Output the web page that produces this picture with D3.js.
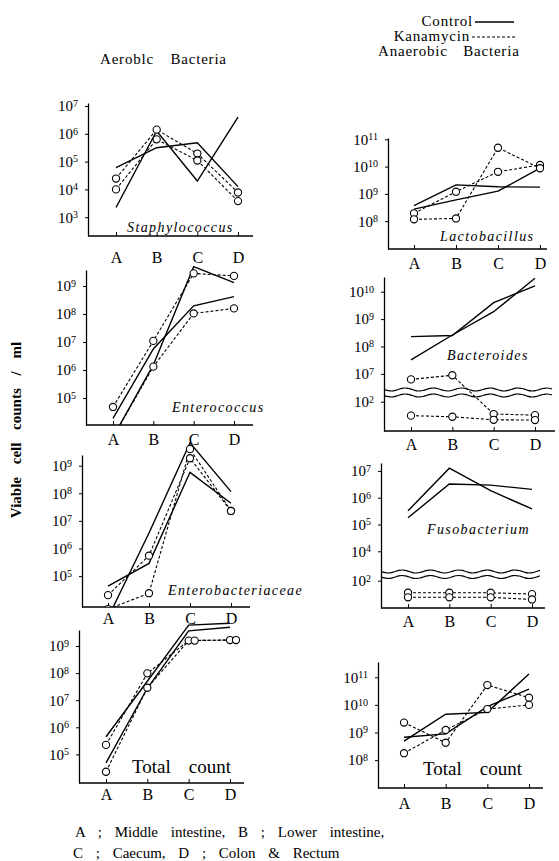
<!DOCTYPE html>
<html>
<head>
<meta charset="utf-8">
<script src="https://cdn.jsdelivr.net/npm/d3@7"></script>
<style>
  body { margin: 0; background: #fff; }
  svg text { font-family: 'Liberation Serif', 'Times New Roman', 'DejaVu Serif', serif; }
</style>
</head>
<body>
<div id="chart"></div>
<script>
// sampling sites along the gut
const sites = ['A', 'B', 'C', 'D'];

// log10 viable cell counts / ml, two animals per group
const staphControl = [[4.78, 5.5, 5.68, 4.1], [3.35, 6.1, 4.3, 6.6]];
const staphKanamycin = [[4.39, 6.15, 5.29, 3.89], [4.0, 5.8, 5.04, 3.58]];

const enteroControl = [[4.27, 6.75, 8.29, 8.62], [3.6, 6.18, 9.69, 9.12]];
const enteroKanamycin = [[4.68, 7.04, 9.45, 9.36], [3.6, 6.12, 8.02, 8.2]];

const enterobacControl = [[4.64, 5.46, 8.76, 7.64], [3.49, 6.56, 9.83, 8.06]];
const enterobacKanamycin = [[4.31, 5.74, 9.27, 7.36], [3.8, 4.38, 9.6, 7.36]];

const aerobicTotalControl = [[5.65, 7.7, 9.77, 9.84], [4.69, 7.44, 9.56, 9.69]];
const aerobicTotalKanamycin = [[5.35, 7.99, 9.2, 9.22], [4.36, 7.46, 9.2, 9.22]];

const lactoControl = [[8.57, 9.33, 9.26, 9.25], [8.44, 8.78, 9.1, 9.94]];
const lactoKanamycin = [[8.29, 9.08, 9.81, 10.06], [8.07, 8.1, 10.69, 9.94]];

const bacteroidesControl = [[8.36, 8.4, 9.6, 10.21], [7.51, 8.42, 9.27, 10.49]];
const bacteroidesKanamycin = [[6.8, 6.95, 1.55, 1.51], [1.49, 1.45, 1.34, 1.33]];

const fusoControl = [[5.51, 7.1, 6.26, 5.58], [5.25, 6.51, 6.47, 6.31]];
const fusoKanamycin = [[1.55, 1.55, 1.55, 1.5], [1.38, 1.38, 1.38, 1.3]];

const anaerobicTotalControl = [[8.69, 9.66, 9.73, 11.12], [8.83, 8.95, 9.94, 10.57]];
const anaerobicTotalKanamycin = [[9.36, 8.63, 10.72, 10.26], [8.25, 9.09, 9.85, 10.0]];

// y tick exponents
const staphTicks = [3, 4, 5, 6, 7];
const aerobicTicks = [5, 6, 7, 8, 9];
const lactoTicks = [8, 9, 10, 11];
const bacteroidesTicks = [2, 7, 8, 9, 10];
const fusoTicks = [2, 4, 5, 6, 7];
const anaerobicTotalTicks = [8, 9, 10, 11];

const serif = "'Liberation Serif', 'Times New Roman', 'DejaVu Serif', serif";

// panel geometry (pixels)
const panels = [
  { name: 'Staphylococcus', italic: true, control: staphControl, kana: staphKanamycin, ticks: staphTicks,
    ax: 88, bottom: 236, top: 103, xEnd: 253, xA: 116, xD: 238, ref: 7, refY: 106, dec: 27.8,
    labelOff: 21, titleX: 127, titleY: 232 },
  { name: 'Enterococcus', italic: true, control: enteroControl, kana: enteroKanamycin, ticks: aerobicTicks,
    ax: 86, bottom: 425, top: 270, xEnd: 253, xA: 113, xD: 234, ref: 9, refY: 286, dec: 28,
    labelOff: 14, titleX: 172, titleY: 412 },
  { name: 'Enterobacteriaceae', italic: true, control: enterobacControl, kana: enterobacKanamycin, ticks: aerobicTicks,
    ax: 82, bottom: 607, top: 455, xEnd: 250, xA: 108, xD: 231, ref: 9, refY: 465.7, dec: 27.6,
    labelOff: 11, titleX: 168, titleY: 595 },
  { name: 'Total count', italic: false, control: aerobicTotalControl, kana: aerobicTotalKanamycin, ticks: aerobicTicks,
    ax: 79, bottom: 783, top: 630, xEnd: 244, xA: 106, xD: 230, ref: 9, refY: 646, dec: 27.1,
    labelOff: 11, titleX: 132, titleY: 773, pairDx: 6 },
  { name: 'Lactobacillus', italic: true, control: lactoControl, kana: lactoKanamycin, ticks: lactoTicks,
    ax: 388, bottom: 249, top: 138, xEnd: 547, xA: 414, xD: 540, ref: 11, refY: 139.3, dec: 27.3,
    labelOff: 14, titleX: 440, titleY: 241 },
  { name: 'Bacteroides', italic: true, control: bacteroidesControl, kana: bacteroidesKanamycin, ticks: bacteroidesTicks,
    ax: 384, bottom: 431, top: 277, xEnd: 555, xA: 411, xD: 535, ref: 10, refY: 291.7, dec: 27.4,
    lowRef: 2, lowRefY: 401.7, gapLo: 397, gapHi: 387, waves: [389.5, 395.5],
    labelOff: 13, titleX: 447, titleY: 360 },
  { name: 'Fusobacterium', italic: true, control: fusoControl, kana: fusoKanamycin, ticks: fusoTicks,
    ax: 381, bottom: 608, top: 463, xEnd: 545, xA: 408, xD: 532, ref: 6, refY: 497.7, dec: 26.8,
    lowRef: 2, lowRefY: 580.7, gapLo: 578, gapHi: 568, waves: [571.5, 577],
    labelOff: 13, titleX: 427, titleY: 534 },
  { name: 'Total count', italic: false, control: anaerobicTotalControl, kana: anaerobicTotalKanamycin, ticks: anaerobicTotalTicks,
    ax: 378, bottom: 788, top: 662, xEnd: 543, xA: 404, xD: 529, ref: 11, refY: 677.3, dec: 27.6,
    labelOff: 15, titleX: 423, titleY: 775 }
];

const width = 559;
const height = 861;

const svg = d3.select('#chart')
  .append('svg')
  .attr('width', width)
  .attr('height', height)
  .attr('font-family', serif);

// header texts and legend
svg.append('text')
  .attr('x', 100).attr('y', 64)
  .attr('font-size', 15).attr('letter-spacing', 0.8).attr('word-spacing', 12)
  .text('Aeroblc Bacteria');

svg.append('text')
  .attr('x', 473).attr('y', 26).attr('text-anchor', 'end')
  .attr('font-size', 15).attr('letter-spacing', 0.8)
  .text('Control');
svg.append('line')
  .attr('x1', 475).attr('x2', 514).attr('y1', 22).attr('y2', 22)
  .attr('stroke', '#000').attr('stroke-width', 1.4);

svg.append('text')
  .attr('x', 470).attr('y', 41).attr('text-anchor', 'end')
  .attr('font-size', 15).attr('letter-spacing', 0.8)
  .text('Kanamycin');
svg.append('line')
  .attr('x1', 472).attr('x2', 517).attr('y1', 37).attr('y2', 37)
  .attr('stroke', '#000').attr('stroke-width', 1.1).attr('stroke-dasharray', '3,2');

svg.append('text')
  .attr('x', 378).attr('y', 56)
  .attr('font-size', 15).attr('letter-spacing', 0.8).attr('word-spacing', 11)
  .text('Anaerobic Bacteria');

svg.append('text')
  .attr('transform', 'translate(21, 430) rotate(-90)')
  .attr('text-anchor', 'middle')
  .attr('font-size', 15).attr('font-weight', 'bold').attr('word-spacing', 9)
  .text('Viable cell counts / ml');

svg.append('text')
  .attr('x', 75).attr('y', 837)
  .attr('font-size', 15).attr('word-spacing', 9)
  .text('A ; Middle intestine, B ; Lower intestine,');
svg.append('text')
  .attr('x', 73).attr('y', 858)
  .attr('font-size', 15).attr('word-spacing', 9)
  .text('C ; Caecum, D ; Colon & Rectum');

const defs = svg.append('defs');

panels.forEach((p, pi) => {
  const g = svg.append('g').attr('class', 'panel');

  const x = d3.scalePoint().domain(sites).range([p.xA, p.xD]);

  let y;
  if (p.lowRef !== undefined) {
    // broken axis: lower part near detection limit, upper part normal
    y = d3.scaleLinear()
      .domain([
        p.lowRef - (p.bottom - p.lowRefY) / p.dec,
        p.lowRef + (p.lowRefY - p.gapLo) / p.dec,
        p.ref - (p.gapHi - p.refY) / p.dec,
        p.ref + (p.refY - p.top) / p.dec
      ])
      .range([p.bottom, p.gapLo, p.gapHi, p.top]);
  } else {
    y = d3.scaleLinear()
      .domain([p.ref - (p.bottom - p.refY) / p.dec, p.ref + (p.refY - p.top) / p.dec])
      .range([p.bottom, p.top]);
  }

  // y axis
  const yAxis = g.append('g')
    .attr('transform', `translate(${p.ax},0)`)
    .call(d3.axisLeft(y).tickValues(p.ticks).tickSize(3).tickSizeOuter(0).tickPadding(7));
  yAxis.attr('font-family', serif);
  yAxis.select('.domain').attr('stroke-width', 1.3);
  yAxis.selectAll('.tick line').attr('stroke-width', 1);
  yAxis.selectAll('.tick text')
    .attr('font-size', 15)
    .attr('fill', '#000')
    .text(null)
    .each(function(d) {
      const t = d3.select(this);
      t.append('tspan').text('10');
      t.append('tspan').attr('dy', '-0.45em').attr('font-size', 10).text(d);
    });

  // x axis
  const xAxis = g.append('g')
    .attr('transform', `translate(0,${p.bottom})`)
    .call(d3.axisBottom(x).tickSize(-4).tickSizeOuter(0).tickPadding(p.labelOff - 5));
  xAxis.attr('font-family', serif);
  xAxis.select('.domain').remove();
  xAxis.selectAll('.tick line').attr('stroke-width', 1);
  xAxis.selectAll('.tick text')
    .attr('font-size', 16)
    .attr('fill', '#000');
  g.append('line')
    .attr('x1', p.ax).attr('x2', p.xEnd)
    .attr('y1', p.bottom).attr('y2', p.bottom)
    .attr('stroke', '#000').attr('stroke-width', 1.4);

  // wavy break lines
  if (p.waves) {
    const wave = d3.line().curve(d3.curveBasis);
    p.waves.forEach(wy => {
      const pts = d3.range(p.ax, p.xEnd - 2, 3).map(wx => [wx, wy + 1.6 * Math.sin((wx - p.ax) / 4.5)]);
      g.append('path')
        .attr('d', wave(pts))
        .attr('fill', 'none').attr('stroke', '#000').attr('stroke-width', 1.2);
    });
  }

  // clip marks at the x axis
  const clipId = 'clip' + pi;
  defs.append('clipPath').attr('id', clipId)
    .append('rect')
    .attr('x', p.ax).attr('y', 0)
    .attr('width', width - p.ax).attr('height', p.bottom);

  const marks = g.append('g').attr('clip-path', `url(#${clipId})`);
  const line = d3.line().x((d, i) => x(sites[i])).y(d => y(d));

  p.control.forEach(series => {
    marks.append('path')
      .datum(series)
      .attr('d', line)
      .attr('fill', 'none').attr('stroke', '#000').attr('stroke-width', 1.4);
  });

  p.kana.forEach(series => {
    marks.append('path')
      .datum(series)
      .attr('d', line)
      .attr('fill', 'none').attr('stroke', '#000').attr('stroke-width', 1.1)
      .attr('stroke-dasharray', '3,2');
  });

  p.kana.forEach((series, si) => {
    marks.selectAll(null)
      .data(series)
      .enter()
      .append('circle')
      .attr('cx', (d, i) => {
        const other = p.kana[1 - si][i];
        const shift = (si === 1 && Math.abs(other - d) < 0.1 && p.pairDx) ? p.pairDx : 0;
        return x(sites[i]) + shift;
      })
      .attr('cy', d => y(d))
      .attr('r', 3.6)
      .attr('fill', '#fff').attr('stroke', '#000').attr('stroke-width', 1.1);
  });

  // panel title
  if (p.italic) {
    g.append('text')
      .attr('x', p.titleX).attr('y', p.titleY)
      .attr('font-size', 14).attr('font-style', 'italic').attr('letter-spacing', 1.4)
      .text(p.name);
  } else {
    const words = p.name.split(' ');
    const t = g.append('text')
      .attr('x', p.titleX).attr('y', p.titleY)
      .attr('font-size', 19);
    t.append('tspan').text(words[0]);
    t.append('tspan').attr('dx', 18).text(words[1]);
  }
});
</script>
</body>
</html>
